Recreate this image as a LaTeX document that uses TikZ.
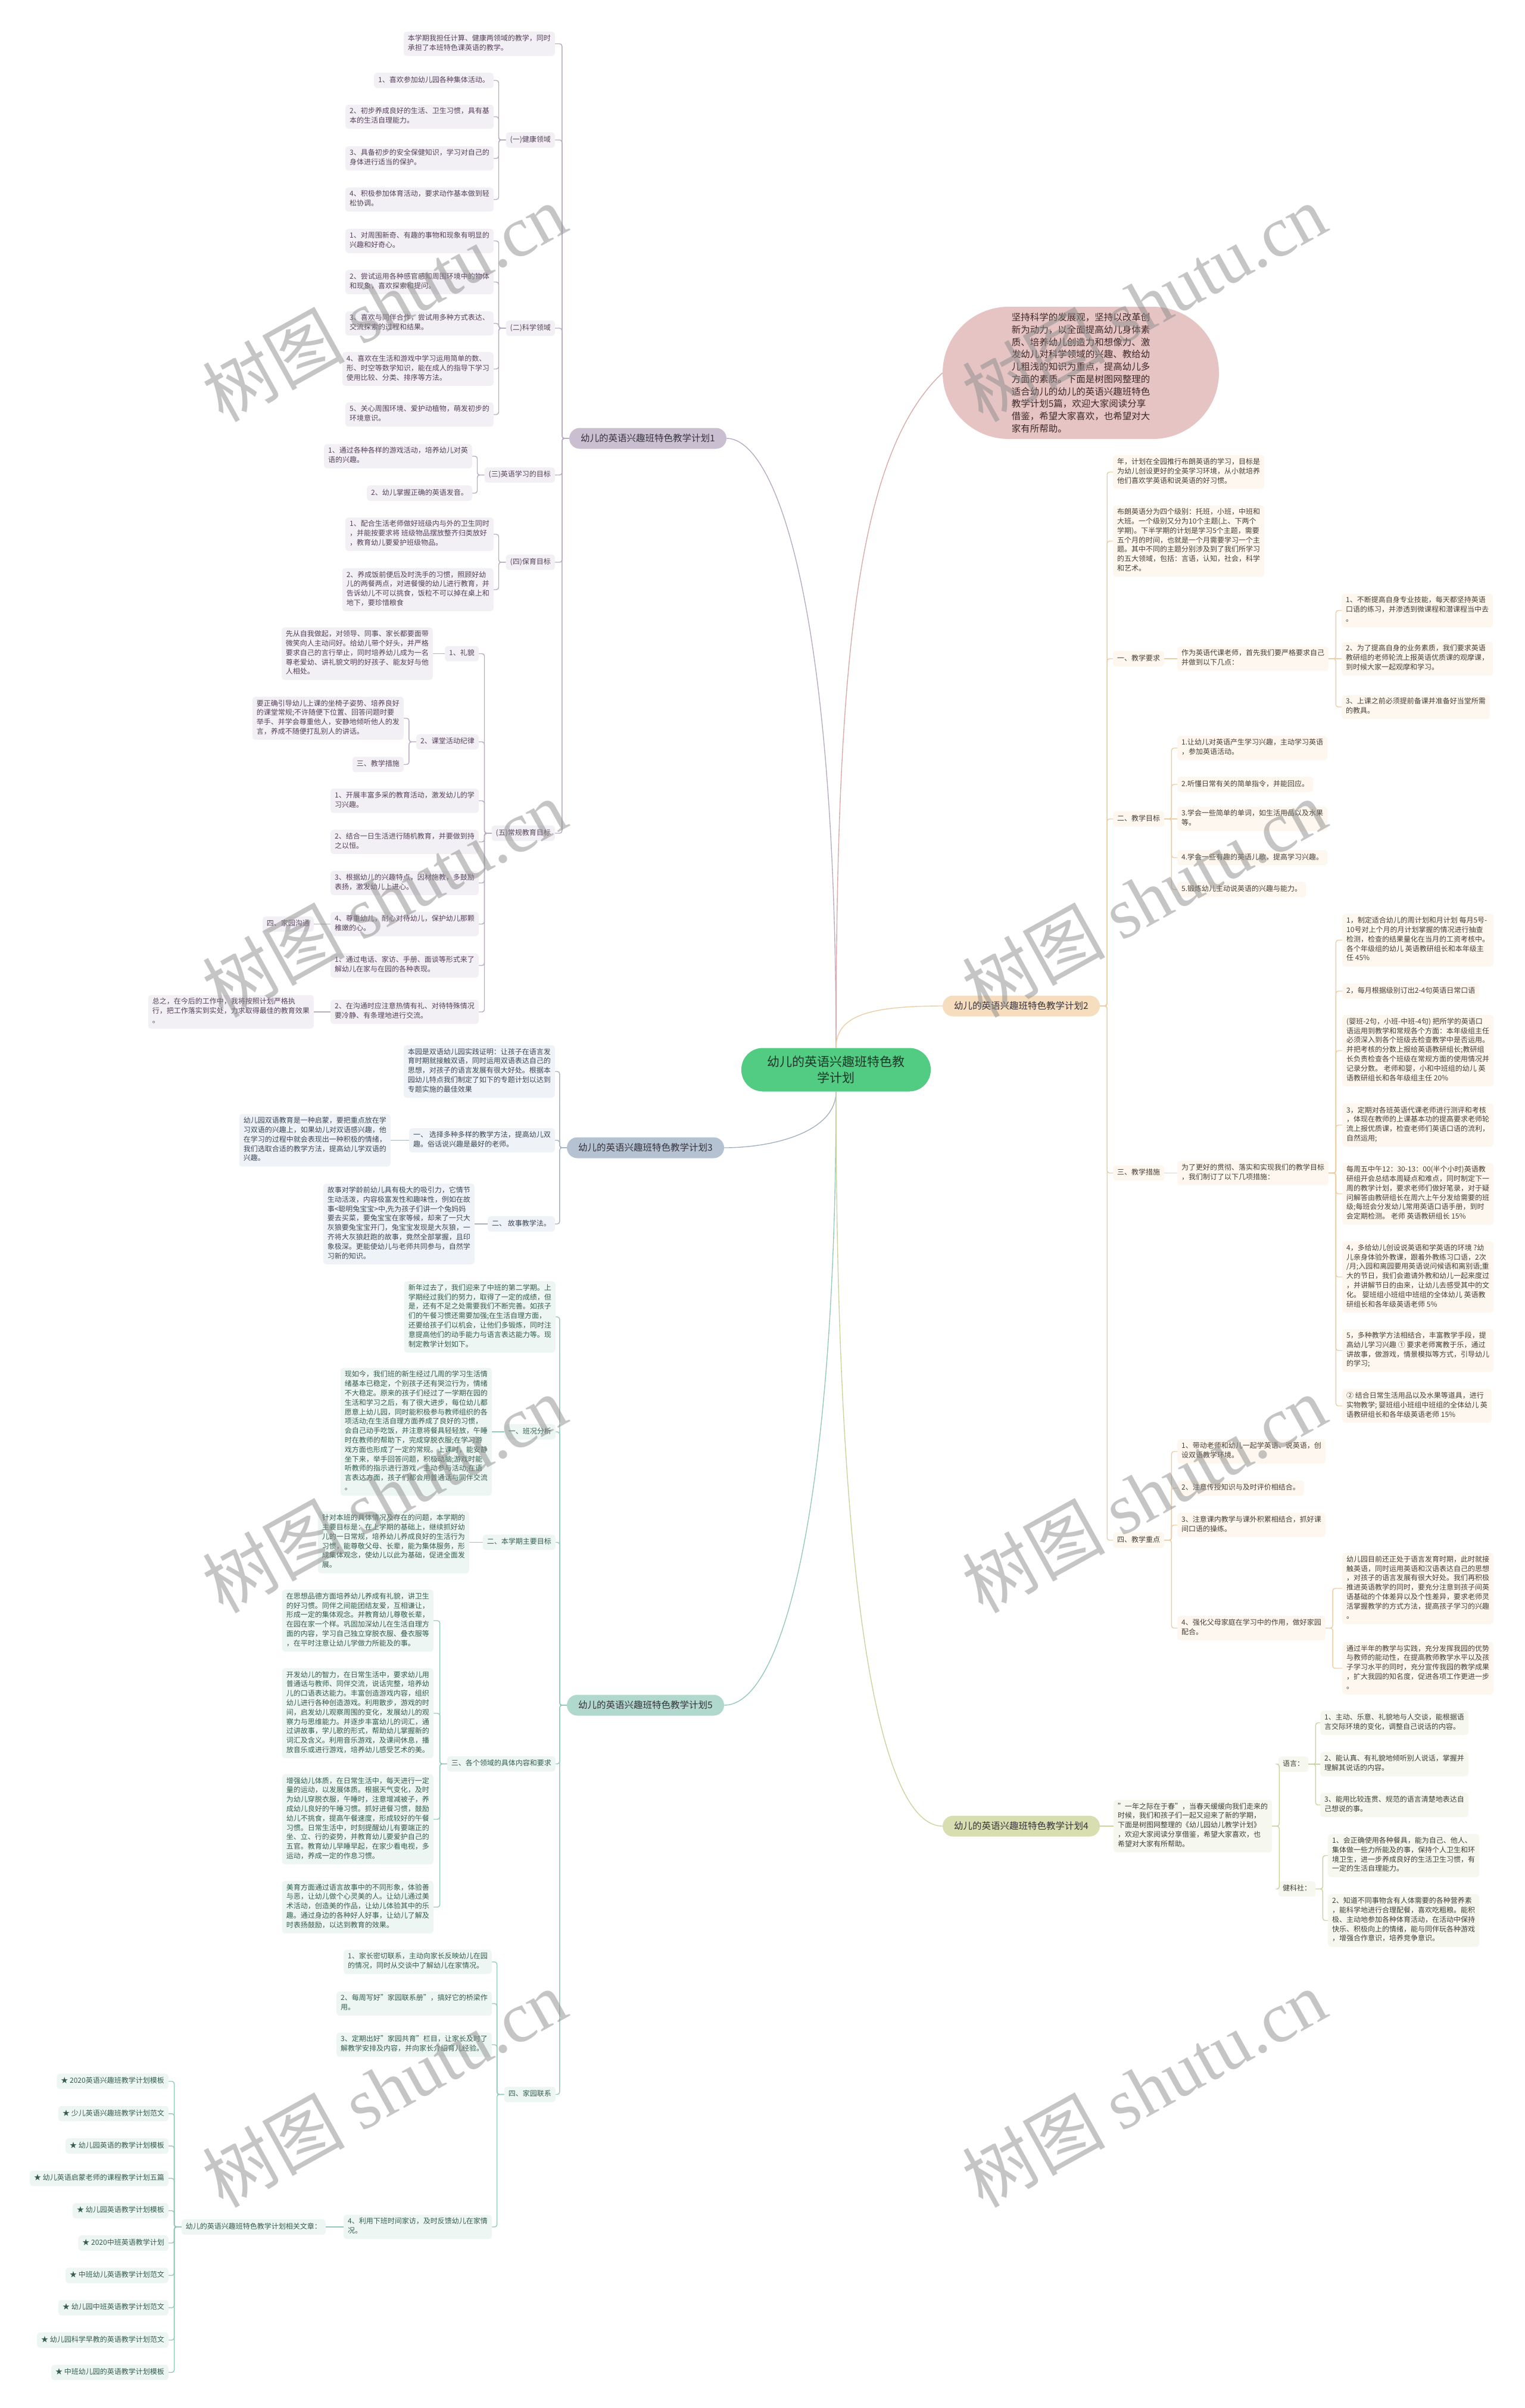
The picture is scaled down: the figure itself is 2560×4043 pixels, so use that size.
\documentclass[tikz,border=0pt]{standalone}
\usepackage{fontspec}
\setmainfont{Noto Sans CJK SC}
\newfontfamily\wmlatin{Liberation Serif}
\newcommand\myfs[2]{\fontsize{#1}{#2}\selectfont}
\definecolor{p1f}{RGB}{201,191,209}
\definecolor{p1l}{RGB}{184,172,192}
\definecolor{p1b}{RGB}{243,240,245}
\definecolor{p1t}{RGB}{85,66,90}
\definecolor{p3f}{RGB}{180,194,210}
\definecolor{p3l}{RGB}{164,178,196}
\definecolor{p3b}{RGB}{239,242,246}
\definecolor{p3t}{RGB}{60,72,88}
\definecolor{p5f}{RGB}{176,216,204}
\definecolor{p5l}{RGB}{150,201,187}
\definecolor{p5b}{RGB}{237,246,243}
\definecolor{p5t}{RGB}{52,92,80}
\definecolor{p2f}{RGB}{245,221,190}
\definecolor{p2l}{RGB}{236,206,166}
\definecolor{p2b}{RGB}{253,247,240}
\definecolor{p2t}{RGB}{72,62,52}
\definecolor{p4f}{RGB}{217,222,176}
\definecolor{p4l}{RGB}{204,211,160}
\definecolor{p4b}{RGB}{246,247,238}
\definecolor{p4t}{RGB}{64,64,54}
\definecolor{ctrf}{RGB}{82,204,130}
\definecolor{bubf}{RGB}{230,196,196}
\definecolor{bubl}{RGB}{218,170,170}
\newcommand\cL[3]{\draw[#1] (#2.west) -- ++(-12,0) |- (#3.east);}
\newcommand\cR[3]{\draw[#1] (#2.east) -- ++(12,0) |- (#3.west);}
\newcommand\sL[3]{\draw[#1] (#2.west) -- (#3.east);}
\newcommand\sR[3]{\draw[#1] (#2.east) -- (#3.west);}
\begin{document}
\begin{tikzpicture}[x=1pt,y=-1pt,
  leaf/.style={font=\myfs{12}{15.8}, inner xsep=7pt, inner ysep=5pt, rounded corners=5pt, align=left,
    execute at begin node=\strut, execute at end node=\strut},
  L1/.style={leaf, fill=p1b, text=p1t, anchor=east},
  L3/.style={leaf, fill=p3b, text=p3t, anchor=east},
  L5/.style={leaf, fill=p5b, text=p5t, anchor=east},
  R2/.style={leaf, fill=p2b, text=p2t, anchor=west},
  R4/.style={leaf, fill=p4b, text=p4t, anchor=west},
  plan/.style={font=\myfs{15.5}{18}, minimum width=264pt, minimum height=35pt, rounded corners=17.5pt, inner sep=0pt, text={rgb,255:red,55;green,50;blue,60}},
  k1/.style={draw=p1l, line width=1.4pt, rounded corners=4pt},
  k3/.style={draw=p3l, line width=1.4pt, rounded corners=4pt},
  k5/.style={draw=p5l, line width=1.4pt, rounded corners=4pt},
  k2/.style={draw=p2l, line width=1.4pt, rounded corners=4pt},
  k4/.style={draw=p4l, line width=1.4pt, rounded corners=4pt},
  kb/.style={draw=bubl, line width=1.4pt},
  wm/.style={rotate=29, text=black!45, text opacity=0.5, font=\myfs{120}{120}, inner sep=0pt}
]
\fill[white] (0,0) rectangle (2560,4043);
\useasboundingbox (0,0) rectangle (2560,4043);

% centre
\node[fill=ctrf, minimum width=318pt, minimum height=73pt, rounded corners=36pt, align=center,
  font=\myfs{21}{27.5}, text={rgb,255:red,30;green,55;blue,40}] (ctr) at (1404,1796) {幼儿的英语兴趣班特色教\\学计划};

% bubble
\node[fill=bubf, minimum width=464pt, minimum height=222pt, rounded corners=111pt, align=left,
  font=\myfs{15.5}{20.7}, text={rgb,255:red,60;green,40;blue,40}] (bub) at (1815,626)
  {坚持科学的发展观，坚持以改革创\\新为动力，以全面提高幼儿身体素\\质、培养幼儿创造力和想像力、激\\发幼儿对科学领域的兴趣、教给幼\\儿粗浅的知识为重点，提高幼儿多\\方面的素质。下面是树图网整理的\\适合幼儿的幼儿的英语兴趣班特色\\教学计划5篇，欢迎大家阅读分享\\借鉴，希望大家喜欢，也希望对大\\家有所帮助。};

% plan nodes
\node[plan, fill=p1f] (p1) at (1088,736) {幼儿的英语兴趣班特色教学计划1};
\node[plan, fill=p3f] (p3) at (1084,1927) {幼儿的英语兴趣班特色教学计划3};
\node[plan, fill=p5f] (p5) at (1084,2863) {幼儿的英语兴趣班特色教学计划5};
\node[plan, fill=p2f] (p2) at (1715,1689) {幼儿的英语兴趣班特色教学计划2};
\node[plan, fill=p4f] (p4) at (1715,3066) {幼儿的英语兴趣班特色教学计划4};

% ---------- plan 1 ----------
\node[L1] (a0) at (932,73.5) {本学期我担任计算、健康两领域的教学，同时\\承担了本班特色课英语的教学。};
\node[L1] (a1) at (932,235) {(一)健康领域};
\node[L1] (a11) at (829,135) {1、喜欢参加幼儿园各种集体活动。};
\node[L1] (a12) at (829,196) {2、初步养成良好的生活、卫生习惯，具有基\\本的生活自理能力。};
\node[L1] (a13) at (829,266) {3、具备初步的安全保健知识，学习对自己的\\身体进行适当的保护。};
\node[L1] (a14) at (829,335) {4、积极参加体育活动，要求动作基本做到轻\\松协调。};
\node[L1] (a2) at (932,551) {(二)科学领域};
\node[L1] (a21) at (829,404.5) {1、对周围新奇、有趣的事物和现象有明显的\\兴趣和好奇心。};
\node[L1] (a22) at (829,473.5) {2、尝试运用各种感官感知周围环境中的物体\\和现象，喜欢探索和提问。};
\node[L1] (a23) at (829,543) {3、喜欢与同伴合作，尝试用多种方式表达、\\交流探索的过程和结果。};
\node[L1] (a24) at (829,619.5) {4、喜欢在生活和游戏中学习运用简单的数、\\形、时空等数学知识，能在成人的指导下学习\\使用比较、分类、排序等方法。};
\node[L1] (a25) at (829,696) {5、关心周围环境、爱护动植物，萌发初步的\\环境意识。};
\node[L1] (a3) at (932,797.5) {(三)英语学习的目标};
\node[L1] (a31) at (793,766) {1、通过各种各样的游戏活动，培养幼儿对英\\语的兴趣。};
\node[L1] (a32) at (793,828) {2、幼儿掌握正确的英语发音。};
\node[L1] (a4) at (932,944) {(四)保育目标};
\node[L1] (a41) at (829,897) {1、配合生活老师做好班级内与外的卫生同时\\，并能按要求将 班级物品摆放整齐归类放好\\，教育幼儿要爱护班级物品。};
\node[L1] (a42) at (829,990) {2、养成饭前便后及时洗手的习惯，照顾好幼\\儿的两餐两点，对进餐慢的幼儿进行教育，并\\告诉幼儿不可以挑食，饭粒不可以掉在桌上和\\地下，要珍惜粮食};
\node[L1] (a5) at (932,1399) {(五)常规教育目标};
\node[L1] (a51) at (804,1097.5) {1、礼貌};
\node[L1] (a511) at (727,1097.5) {先从自我做起，对领导、同事、家长都要面带\\微笑向人主动问好。给幼儿带个好头，并严格\\要求自己的言行举止，同时培养幼儿成为一名\\尊老爱幼、讲礼貌文明的好孩子、能友好与他\\人相处。};
\node[L1] (a52) at (804,1245.5) {2、课堂活动纪律};
\node[L1] (a521) at (678,1206) {要正确引导幼儿上课的坐椅子姿势、培养良好\\的课堂常规;不许随便下位置、回答问题时要\\举手、并学会尊重他人，安静地倾听他人的发\\言，养成不随便打乱别人的讲话。};
\node[L1] (a522) at (678,1283.5) {三、教学措施};
\node[L1] (a53) at (804,1344.5) {1、开展丰富多采的教育活动，激发幼儿的学\\习兴趣。};
\node[L1] (a54) at (804,1413.5) {2、结合一日生活进行随机教育，并要做到持\\之以恒。};
\node[L1] (a55) at (804,1482.5) {3、根据幼儿的兴趣特点，因材施教，多鼓励\\表扬，激发幼儿上进心。};
\node[L1] (a56) at (804,1551.5) {4、尊重幼儿，耐心对待幼儿，保护幼儿那颗\\稚嫩的心。};
\node[L1] (a561) at (527,1551.5) {四、家园沟通};
\node[L1] (a57) at (804,1621) {1、通过电话、家访、手册、面谈等形式来了\\解幼儿在家与在园的各种表现。};
\node[L1] (a58) at (804,1699) {2、在沟通时应注意热情有礼、对待特殊情况\\要冷静、有条理地进行交流。};
\node[L1] (a581) at (527,1699) {总之，在今后的工作中，我将按照计划严格执\\行，把工作落实到实处，力求取得最佳的教育效果\\。};

% ---------- plan 3 ----------
\node[L3] (b0) at (932,1799) {本园是双语幼儿园实践证明：让孩子在语言发\\育时期就接触双语，同时运用双语表达自己的\\思想，对孩子的语言发展有很大好处。根据本\\园幼儿特点我们制定了如下的专题计划以达到\\专题实施的最佳效果};
\node[L3] (b1) at (932,1914.5) {一、 选择多种多样的教学方法，提高幼儿双\\趣。俗话说兴趣是最好的老师。};
\node[L3] (b11) at (656,1914.5) {幼儿园双语教育是一种启蒙，要把重点放在学\\习双语的兴趣上，如果幼儿对双语感兴趣，他\\在学习的过程中就会表现出一种积极的情绪，\\我们选取合适的教学方法，提高幼儿学双语的\\兴趣。};
\node[L3] (b2) at (932,2055) {二、 故事教学法。};
\node[L3] (b21) at (797,2055) {故事对学龄前幼儿具有极大的吸引力，它情节\\生动活泼，内容极富发性和趣味性，例如在故\\事<聪明兔宝宝>中,先为孩子们讲一个兔妈妈\\要去买菜，要兔宝宝在家等候，却来了一只大\\灰狼要兔宝宝开门，兔宝宝发现是大灰狼，一\\齐将大灰狼赶跑的故事，竟然全部掌握，且印\\象极深。更能使幼儿与老师共同参与，自然学\\习新的知识。};

% ---------- plan 5 ----------
\node[L5] (c0) at (933,2211) {新年过去了，我们迎来了中班的第二学期。上\\学期经过我们的努力，取得了一定的成绩，但\\是，还有不足之处需要我们不断完善。如孩子\\们的午餐习惯还需要加强;在生活自理方面，\\还要给孩子们以机会，让他们多锻炼，同时注\\意提高他们的动手能力与语言表达能力等。现\\制定教学计划如下。};
\node[L5] (c1) at (933,2404) {一、班况分析};
\node[L5] (c11) at (826,2404) {现如今，我们班的新生经过几周的学习生活情\\绪基本已稳定，个别孩子还有哭泣行为，情绪\\不大稳定。原来的孩子们经过了一学期在园的\\生活和学习之后，有了很大进步，每位幼儿都\\愿意上幼儿园，同时能积极参与教师组织的各\\项活动;在生活自理方面养成了良好的习惯，\\会自己动手吃饭，并注意将餐具轻轻放，午睡\\时在教师的帮助下，完成穿脱衣服;在学习游\\戏方面也形成了一定的常规。上课时，能安静\\坐下来，举手回答问题，积极动脑;游戏时能\\听教师的指示进行游戏，主动参与活动;在语\\言表达方面，孩子们都会用普通话与同伴交流\\。};
\node[L5] (c2) at (933,2589.5) {二、本学期主要目标};
\node[L5] (c21) at (788,2589.5) {针对本班的具体情况及存在的问题，本学期的\\主要目标是：在上学期的基础上，继续抓好幼\\儿的一日常规，培养幼儿养成良好的生活行为\\习惯，能尊敬父母、长辈，能为集体服务，形\\成集体观念，使幼儿以此为基础，促进全面发\\展。};
\node[L5] (c3) at (933,2961.5) {三、各个领域的具体内容和要求};
\node[L5] (c31) at (728,2721) {在思想品德方面培养幼儿养成有礼貌，讲卫生\\的好习惯。同伴之间能团结友爱，互相谦让，\\形成一定的集体观念。并教育幼儿尊敬长辈，\\在园在家一个样。巩固加深幼儿在生活自理方\\面的内容，学习自己独立穿脱衣服、叠衣服等\\，在平时注意让幼儿学做力所能及的事。};
\node[L5] (c32) at (728,2876.5) {开发幼儿的智力，在日常生活中，要求幼儿用\\普通话与教师、同伴交流，说话完整，培养幼\\儿的口语表达能力。丰富创造游戏内容，组织\\幼儿进行各种创造游戏。利用散步，游戏的时\\间，启发幼儿观察周围的变化，发展幼儿的观\\察力与思维能力。并逐步丰富幼儿的词汇，通\\过讲故事，学儿歌的形式，帮助幼儿掌握新的\\词汇及含义。利用音乐游戏，及课间休息，播\\放音乐或进行游戏，培养幼儿感受艺术的美。};
\node[L5] (c33) at (728,3054.5) {增强幼儿体质，在日常生活中，每天进行一定\\量的运动，以发展体质。根据天气变化，及时\\为幼儿穿脱衣服，午睡时，注意增减被子，养\\成幼儿良好的午睡习惯。抓好进餐习惯，鼓励\\幼儿不挑食，提高午餐速度，形成较好的午餐\\习惯。日常生活中，时刻提醒幼儿有要端正的\\坐、立、行的姿势，并教育幼儿要爱护自己的\\五官。教育幼儿早睡早起，在家少看电视，多\\运动，养成一定的作息习惯。};
\node[L5] (c34) at (728,3202) {美育方面通过语言故事中的不同形象，体验善\\与恶，让幼儿做个心灵美的人。让幼儿通过美\\术活动，创造美的作品，让幼儿体验其中的乐\\趣。通过身边的各种好人好事，让幼儿了解及\\时表扬鼓励，以达到教育的效果。};
\node[L5] (c4) at (933,3516.5) {四、家园联系};
\node[L5] (c41) at (826,3294) {1、家长密切联系，主动向家长反映幼儿在园\\的情况，同时从交谈中了解幼儿在家情况。};
\node[L5] (c42) at (826,3364) {2、每周写好"家园联系册"，搞好它的桥梁作\\用。};
\node[L5] (c43) at (826,3433) {3、定期出好"家园共育"栏目，让家长及时了\\解教学安排及内容，并向家长介绍育儿经验。};
\node[L5] (c44) at (826,3739) {4、利用下班时间家访，及时反馈幼儿在家情\\况。};
\node[L5] (c441) at (547,3739) {幼儿的英语兴趣班特色教学计划相关文章：};
\node[L5] (s1) at (283,3494.5) {★ 2020英语兴趣班教学计划模板};
\node[L5] (s2) at (283,3548.8) {★ 少儿英语兴趣班教学计划范文};
\node[L5] (s3) at (283,3603.1) {★ 幼儿园英语的教学计划模板};
\node[L5] (s4) at (283,3657.4) {★ 幼儿英语启蒙老师的课程教学计划五篇};
\node[L5] (s5) at (283,3711.7) {★ 幼儿园英语教学计划模板};
\node[L5] (s6) at (283,3766) {★ 2020中班英语教学计划};
\node[L5] (s7) at (283,3820.3) {★ 中班幼儿英语教学计划范文};
\node[L5] (s8) at (283,3874.6) {★ 幼儿园中班英语教学计划范文};
\node[L5] (s9) at (283,3928.9) {★ 幼儿园科学早教的英语教学计划范文};
\node[L5] (s10) at (283,3983.2) {★ 中班幼儿园的英语教学计划模板};

% ---------- plan 2 ----------
\node[R2] (d0) at (1869,792.5) {年，计划在全园推行布朗英语的学习，目标是\\为幼儿创设更好的全英学习环境，从小就培养\\他们喜欢学英语和说英语的好习惯。};
\node[R2] (d1) at (1869,908.5) {布朗英语分为四个级别：托班，小班，中班和\\大班。一个级别又分为10个主题(上、下两个\\学期)。下半学期的计划是学习5个主题，需要\\五个月的时间，也就是一个月需要学习一个主\\题。其中不同的主题分别涉及到了我们所学习\\的五大领域，包括：言语，认知，社会，科学\\和艺术。};
\node[R2] (d2) at (1869,1106) {一、教学要求};
\node[R2] (d21) at (1977,1106) {作为英语代课老师，首先我们要严格要求自己\\并做到以下几点：};
\node[R2] (d211) at (2253,1025) {1、不断提高自身专业技能，每天都坚持英语\\口语的练习，并渗透到微课程和潜课程当中去\\。};
\node[R2] (d212) at (2253,1106) {2、为了提高自身的业务素质，我们要求英语\\教研组的老师轮流上报英语优质课的观摩课，\\到时候大家一起观摩和学习。};
\node[R2] (d213) at (2253,1187) {3、上课之前必须提前备课并准备好当堂所需\\的教具。};
\node[R2] (d3) at (1869,1375) {二、教学目标};
\node[R2] (d31) at (1977,1256) {1.让幼儿对英语产生学习兴趣，主动学习英语\\，参加英语活动。};
\node[R2] (d32) at (1977,1317) {2.听懂日常有关的简单指令，并能回应。};
\node[R2] (d33) at (1977,1375) {3.学会一些简单的单词，如生活用品以及水果\\等。};
\node[R2] (d34) at (1977,1440) {4.学会一些有趣的英语儿歌，提高学习兴趣。};
\node[R2] (d35) at (1977,1493.5) {5.锻炼幼儿主动说英语的兴趣与能力。};
\node[R2] (d4) at (1869,1969.5) {三、教学措施};
\node[R2] (d41) at (1977,1969.5) {为了更好的贯彻、落实和实现我们的教学目标\\，我们制订了以下几项措施：};
\node[R2] (d411) at (2254,1578.5) {1，制定适合幼儿的周计划和月计划 每月5号-\\10号对上个月的月计划掌握的情况进行抽查\\检测，检查的结果量化在当月的工资考核中。\\ 各个年级组的幼儿 英语教研组长和本年级主\\任 45\%};
\node[R2] (d412) at (2254,1664) {2，每月根据级别订出2-4句英语日常口语};
\node[R2] (d413) at (2254,1764) {(婴班-2句，小班-中班-4句) 把所学的英语口\\语运用到教学和常规各个方面：本年级组主任\\必须深入到各个班级去检查教学中是否运用。\\并把考核的分数上报给英语教研组长;教研组\\长负责检查各个班级在常规方面的使用情况并\\记录分数。 老师和婴，小和中班组的幼儿 英\\语教研组长和各年级组主任 20\%};
\node[R2] (d414) at (2254,1889) {3，定期对各班英语代课老师进行测评和考核\\，体现在教师的上课基本功的提高要求老师轮\\流上报优质课，检查老师们英语口语的流利，\\自然运用;};
\node[R2] (d415) at (2254,2004.5) {每周五中午12：30-13：00(半个小时)英语教\\研组开会总结本周疑点和难点，同时制定下一\\周的教学计划，要求老师们做好笔录，对于疑\\问解答由教研组长在周六上午分发给需要的班\\级;每班会分发幼儿常用英语口语手册，到时\\会定期检测。 老师 英语教研组长 15\%};
\node[R2] (d416) at (2254,2144) {4，多给幼儿创设说英语和学英语的环境 ?幼\\儿亲身体验外教课，跟着外教练习口语，2次\\/月;入园和离园要用英语说问候语和离别语;重\\大的节日，我们会邀请外教和幼儿一起来度过\\，并讲解节日的由来，让幼儿去感受其中的文\\化。 婴班组小班组中班组的全体幼儿 英语教\\研组长和各年级英语老师 5\%};
\node[R2] (d417) at (2254,2267.5) {5，多种教学方法相结合，丰富教学手段，提\\高幼儿学习兴趣 ① 要求老师寓教于乐，通过\\讲故事，做游戏，情景模拟等方式，引导幼儿\\的学习;};
\node[R2] (d418) at (2254,2360.5) {② 结合日常生活用品以及水果等道具，进行\\实物教学; 婴班组小班组中班组的全体幼儿 英\\语教研组长和各年级英语老师 15\%};
\node[R2] (d5) at (1869,2586) {四、教学重点};
\node[R2] (d51) at (1977,2437) {1、带动老师和幼儿一起学英语、说英语，创\\设双语教学环境。};
\node[R2] (d52) at (1977,2498.5) {2、注意传授知识与及时评价相结合。};
\node[R2] (d53) at (1977,2560.5) {3、注意课内教学与课外积累相结合，抓好课\\间口语的操练。};
\node[R2] (d54) at (1977,2733.5) {4、强化父母家庭在学习中的作用，做好家园\\配合。};
\node[R2] (d541) at (2254,2667) {幼儿园目前还正处于语言发育时期，此时就接\\触英语，同时运用英语和汉语表达自己的思想\\，对孩子的语言发展有很大好处。我们再积极\\推进英语教学的同时，要充分注意到孩子间英\\语基础的个体差异以及个性差异，要求老师灵\\活掌握教学的方式方法，提高孩子学习的兴趣\\。};
\node[R2] (d542) at (2254,2801) {通过半年的教学与实践，充分发挥我园的优势\\与教师的能动性，在提高教师教学水平以及孩\\子学习水平的同时，充分宣传我园的教学成果\\，扩大我园的知名度，促进各项工作更进一步\\。};

% ---------- plan 4 ----------
\node[R4] (e0) at (1870,3066) {"一年之际在于春"，当春天缓缓向我们走来的\\时候，我们和孩子们一起又迎来了新的学期，\\下面是树图网整理的《幼儿园幼儿教学计划》\\，欢迎大家阅读分享借鉴，希望大家喜欢，也\\希望对大家有所帮助。};
\node[R4] (e1) at (2147,2962) {语言：};
\node[R4] (e11) at (2217,2892.5) {1、主动、乐意、礼貌地与人交谈，能根据语\\言交际环境的变化，调整自己说话的内容。};
\node[R4] (e12) at (2217,2962) {2、能认真、有礼貌地倾听别人说话，掌握并\\理解其说话的内容。};
\node[R4] (e13) at (2217,3030.5) {3、能用比较连贯、规范的语言清楚地表达自\\己想说的事。};
\node[R4] (e2) at (2147,3171.5) {健科社：};
\node[R4] (e21) at (2230,3115.5) {1、会正确使用各种餐具，能为自己、他人、\\集体做一些力所能及的事，保持个人卫生和环\\境卫生，进一步养成良好的生活卫生习惯，有\\一定的生活自理能力。};
\node[R4] (e22) at (2230,3224.5) {2、知道不同事物含有人体需要的各种营养素\\，能科学地进行合理配餐，喜欢吃粗粮。能积\\极、主动地参加各种体育活动，在活动中保持\\快乐、积极向上的情绪，能与同伴玩各种游戏\\，增强合作意识，培养竞争意识。};

% ---------- main curves ----------
\draw[k1] (ctr.north) .. controls (1404,1000) and (1300,736) .. (p1.east);
\draw[kb] (ctr.north) .. controls (1404,1100) and (1440,760) .. (bub.west);
\draw[k2] (ctr.north) .. controls (1404,1705) and (1460,1689) .. (p2.west);
\draw[k3] (ctr.south) .. controls (1404,1900) and (1300,1927) .. (p3.east);
\draw[k5] (ctr.south) .. controls (1404,2500) and (1320,2863) .. (p5.east);
\draw[k4] (ctr.south) .. controls (1404,2700) and (1480,3066) .. (p4.west);

% ---------- plan 1 connectors ----------
\foreach \c in {a0,a1,a2,a3,a4,a5} {\cL{k1}{p1}{\c}}
\foreach \c in {a11,a12,a13,a14} {\cL{k1}{a1}{\c}}
\foreach \c in {a21,a22,a23,a24,a25} {\cL{k1}{a2}{\c}}
\foreach \c in {a31,a32} {\cL{k1}{a3}{\c}}
\foreach \c in {a41,a42} {\cL{k1}{a4}{\c}}
\foreach \c in {a51,a52,a53,a54,a55,a56,a57,a58} {\cL{k1}{a5}{\c}}
\sL{k1}{a51}{a511}
\foreach \c in {a521,a522} {\cL{k1}{a52}{\c}}
\sL{k1}{a56}{a561}
\sL{k1}{a58}{a581}

% ---------- plan 3 connectors ----------
\foreach \c in {b0,b1,b2} {\cL{k3}{p3}{\c}}
\sL{k3}{b1}{b11}
\sL{k3}{b2}{b21}

% ---------- plan 5 connectors ----------
\foreach \c in {c0,c1,c2,c3,c4} {\cL{k5}{p5}{\c}}
\sL{k5}{c1}{c11}
\sL{k5}{c2}{c21}
\foreach \c in {c31,c32,c33,c34} {\cL{k5}{c3}{\c}}
\foreach \c in {c41,c42,c43,c44} {\cL{k5}{c4}{\c}}
\sL{k5}{c44}{c441}
\foreach \c in {s1,s2,s3,s4,s5,s6,s7,s8,s9,s10} {\cL{k5}{c441}{\c}}

% ---------- plan 2 connectors ----------
\foreach \c in {d0,d1,d2,d3,d4,d5} {\cR{k2}{p2}{\c}}
\sR{k2}{d2}{d21}
\foreach \c in {d211,d213} {\cR{k2}{d21}{\c}}
\sR{k2}{d21}{d212}
\foreach \c in {d31,d32,d34,d35} {\cR{k2}{d3}{\c}}
\sR{k2}{d3}{d33}
\sR{k2}{d4}{d41}
\foreach \c in {d411,d412,d413,d414,d415,d416,d417,d418} {\cR{k2}{d41}{\c}}
\foreach \c in {d51,d52,d53,d54} {\cR{k2}{d5}{\c}}
\foreach \c in {d541,d542} {\cR{k2}{d54}{\c}}

% ---------- plan 4 connectors ----------
\sR{k4}{p4}{e0}
\foreach \c in {e1,e2} {\cR{k4}{e0}{\c}}
\foreach \c in {e11,e13} {\cR{k4}{e1}{\c}}
\sR{k4}{e1}{e12}
\foreach \c in {e21,e22} {\cR{k4}{e2}{\c}}

% ---------- watermarks ----------
\foreach \wx/\wy [count=\i] in {645/508, 1921/508, 645/1508, 1921/1508, 645/2508, 1921/2508, 645/3506, 1921/3506}
  {\node[wm] (wm\i) at (\wx,\wy) {树图 {\wmlatin shutu.cn}};}
\end{tikzpicture}
\end{document}
